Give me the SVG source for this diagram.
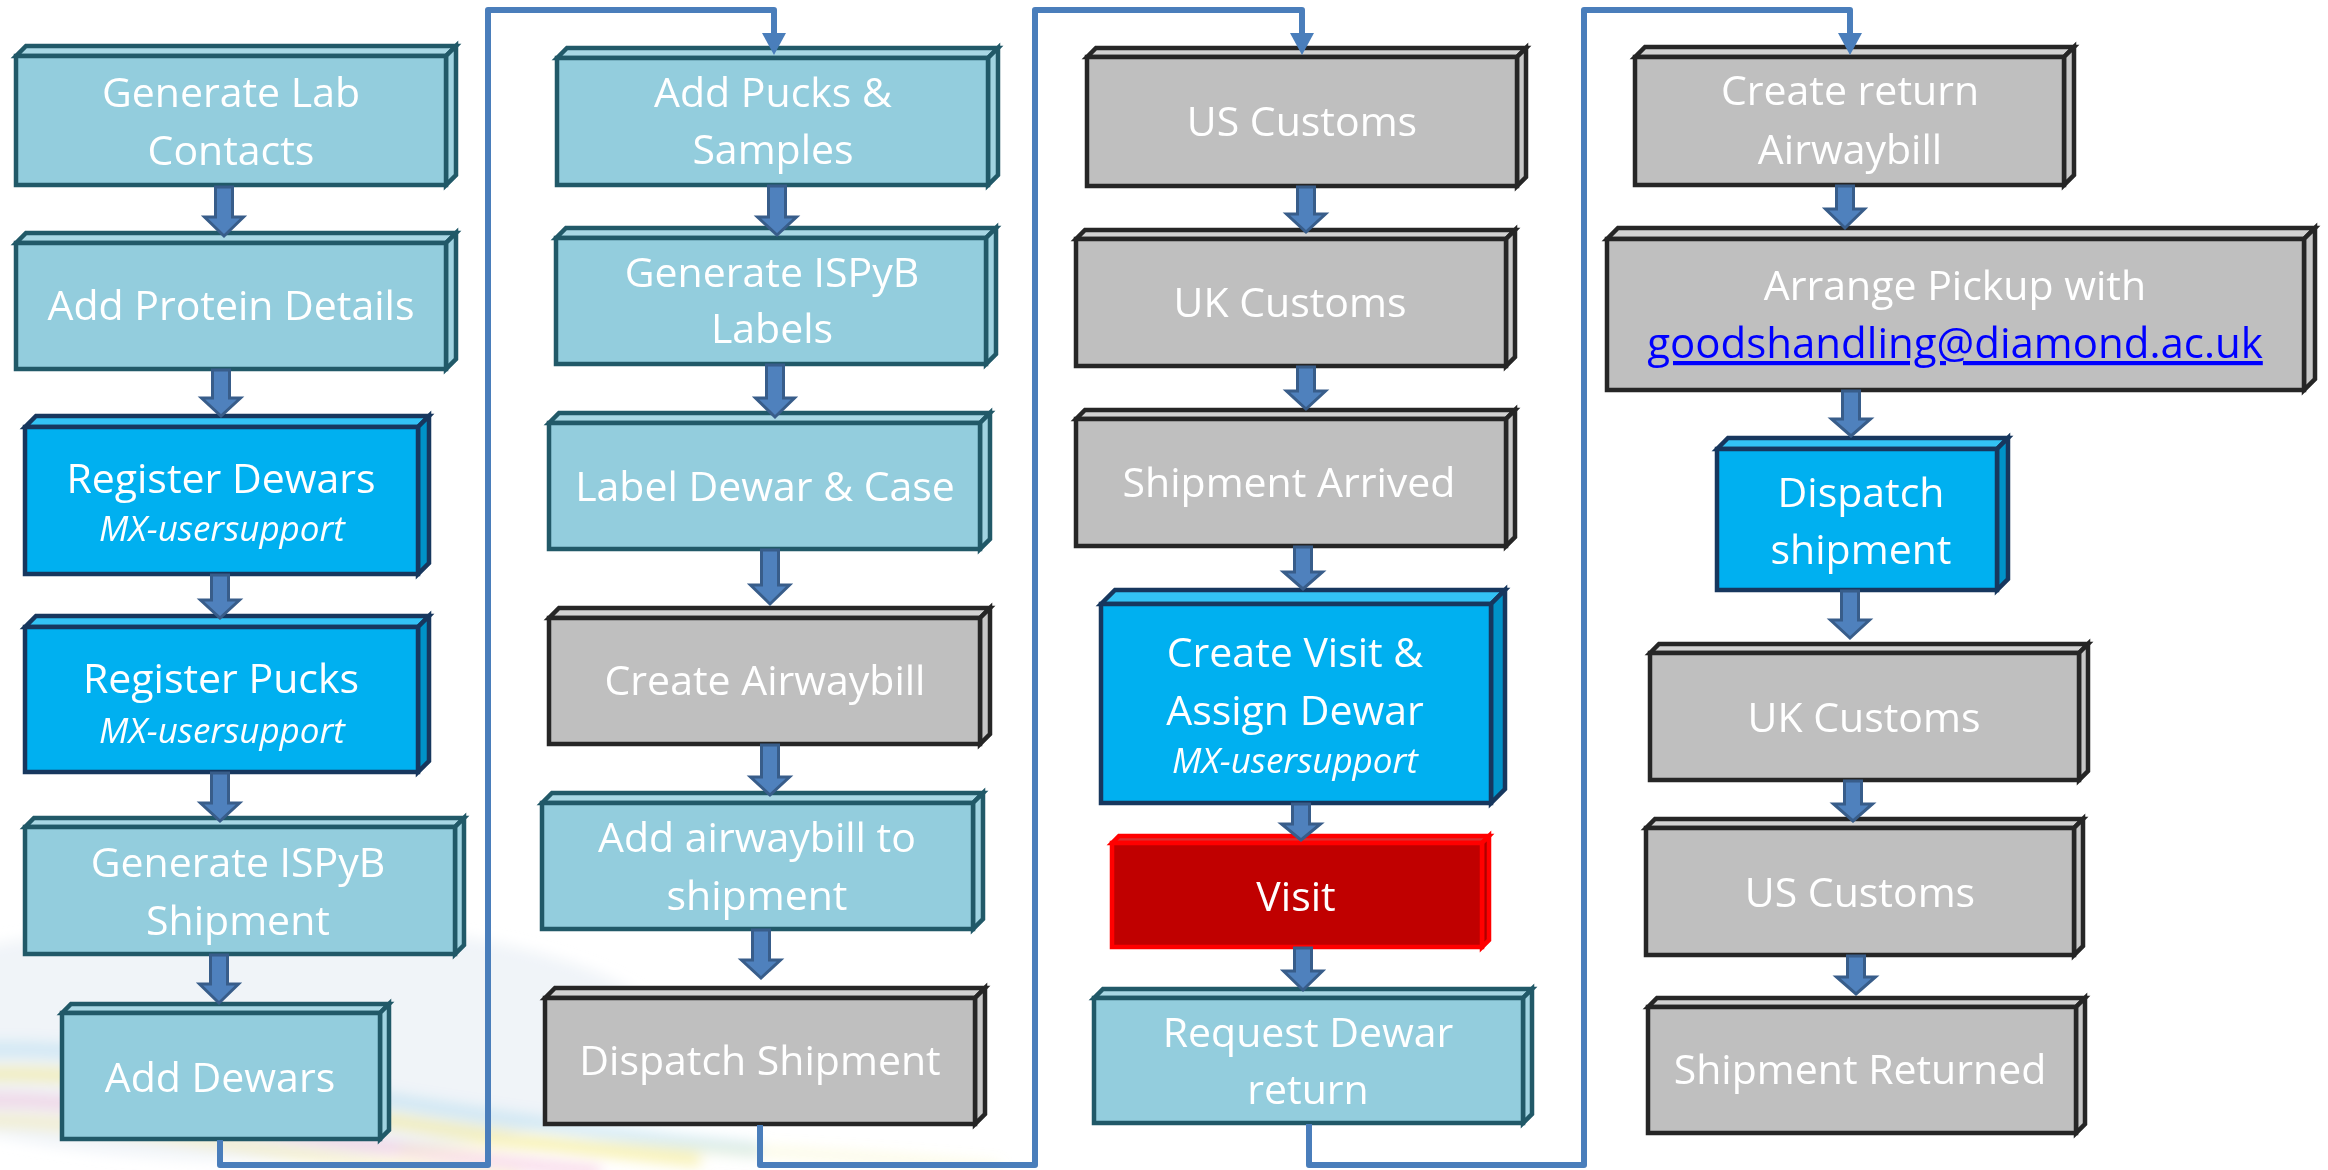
<svg xmlns="http://www.w3.org/2000/svg" width="2328" height="1170" viewBox="0 0 2328 1170">
<defs>
<style>
.box rect,.box path{stroke-width:4.5;stroke-linejoin:miter}
.teal rect{fill:#93CDDD;stroke:#215968}.teal .top{fill:#A8D7E4;stroke:#215968}.teal .side{fill:#A0D3E1;stroke:#215968}
.blue rect{fill:#00B0F0;stroke:#17375E}.blue .top{fill:#33C3F5;stroke:#17375E}.blue .side{fill:#0092C8;stroke:#17375E}
.gray rect{fill:#BFBFBF;stroke:#262626}.gray .top{fill:#D2D2D2;stroke:#262626}.gray .side{fill:#C8C8C8;stroke:#262626}
.red rect{fill:#C00000;stroke:#FF0000}.red .top{fill:#D83030;stroke:#FF0000}.red .side{fill:#B00000;stroke:#FF0000}
text{font-family:"Open Sans","Noto Sans","Liberation Sans",sans-serif;fill:#FFFFFF;text-anchor:middle;font-size:41px}
text.it{font-style:italic;font-size:35px}
text.link{fill:#0000FF;text-decoration:underline;font-size:42px}
.blk{fill:#4F81BD;stroke:#385D8A;stroke-width:3;stroke-linejoin:miter}
.flow{fill:none;stroke:#4A7EBB;stroke-width:6;stroke-linejoin:round}
</style>
<marker id="ah" viewBox="0 -12 22 24" markerWidth="22" markerHeight="24" refX="3" refY="0" orient="auto" markerUnits="userSpaceOnUse">
<path d="M0 -12 L22 0 L0 12 Z" fill="#4A7EBB"/>
</marker>
<filter id="blur" x="-20%" y="-50%" width="140%" height="200%"><feGaussianBlur stdDeviation="7"/></filter>
</defs>
<rect width="2328" height="1170" fill="#FFFFFF"/>
<g id="background" filter="url(#blur)">
<ellipse cx="250" cy="1040" rx="420" ry="120" fill="#E6ECF3" opacity="0.6"/>
<path d="M-30 1050 C 150 1040 350 1110 760 1150" fill="none" stroke="#A9D8EE" stroke-width="14" opacity="0.5"/>
<path d="M-30 1075 C 150 1065 330 1125 700 1160" fill="none" stroke="#F2E45A" stroke-width="12" opacity="0.5"/>
<path d="M-30 1100 C 120 1095 300 1145 600 1172" fill="none" stroke="#EE9CC6" stroke-width="12" opacity="0.4"/>
<path d="M-30 1120 C 120 1120 300 1160 520 1180" fill="none" stroke="#F5E27A" stroke-width="10" opacity="0.45"/>
<path d="M400 1150 C 600 1140 800 1150 1000 1168" fill="none" stroke="#F3EA8A" stroke-width="8" opacity="0.3"/>
</g>

<g id="n-generate-lab-contacts" class="box teal">
<path class="top" d="M16 56 L26 46 H456 L446 56 Z"/><path class="side" d="M446 56 L456 46 V175 L446 185 Z"/><rect x="16" y="56" width="430" height="129"/>
<text x="231" y="107">Generate Lab</text><text x="231" y="165">Contacts</text></g>
<g id="n-add-protein-details" class="box teal">
<path class="top" d="M16 243 L26 233 H456 L446 243 Z"/><path class="side" d="M446 243 L456 233 V359 L446 369 Z"/><rect x="16" y="243" width="430" height="126"/>
<text x="231" y="320">Add Protein Details</text></g>
<g id="n-register-dewars" class="box blue">
<path class="top" d="M25 427 L36 416 H429 L418 427 Z"/><path class="side" d="M418 427 L429 416 V563 L418 574 Z"/><rect x="25" y="427" width="393" height="147"/>
<text x="221" y="493">Register Dewars</text><text class="it" x="222" y="541">MX-usersupport</text></g>
<g id="n-register-pucks" class="box blue">
<path class="top" d="M25 627 L36 616 H429 L418 627 Z"/><path class="side" d="M418 627 L429 616 V761 L418 772 Z"/><rect x="25" y="627" width="393" height="145"/>
<text x="221" y="693">Register Pucks</text><text class="it" x="222" y="743">MX-usersupport</text></g>
<g id="n-generate-ispyb-shipment" class="box teal">
<path class="top" d="M25 827 L34 818 H464 L455 827 Z"/><path class="side" d="M455 827 L464 818 V945 L455 954 Z"/><rect x="25" y="827" width="430" height="127"/>
<text x="238" y="877">Generate ISPyB</text><text x="238" y="935">Shipment</text></g>
<g id="n-add-dewars" class="box teal">
<path class="top" d="M62 1013 L71 1004 H389 L380 1013 Z"/><path class="side" d="M380 1013 L389 1004 V1130 L380 1139 Z"/><rect x="62" y="1013" width="318" height="126"/>
<text x="220" y="1092">Add Dewars</text></g>

<g id="n-add-pucks-samples" class="box teal">
<path class="top" d="M557 58 L567 48 H998 L988 58 Z"/><path class="side" d="M988 58 L998 48 V175 L988 185 Z"/><rect x="557" y="58" width="431" height="127"/>
<text x="773" y="107">Add Pucks &amp;</text><text x="773" y="164">Samples</text></g>
<g id="n-generate-ispyb-labels" class="box teal">
<path class="top" d="M556 238 L566 228 H996 L986 238 Z"/><path class="side" d="M986 238 L996 228 V354 L986 364 Z"/><rect x="556" y="238" width="430" height="126"/>
<text x="772" y="287">Generate ISPyB</text><text x="772" y="343">Labels</text></g>
<g id="n-label-dewar-case" class="box teal">
<path class="top" d="M549 423 L559 413 H990 L980 423 Z"/><path class="side" d="M980 423 L990 413 V539 L980 549 Z"/><rect x="549" y="423" width="431" height="126"/>
<text x="765" y="501">Label Dewar &amp; Case</text></g>
<g id="n-create-airwaybill" class="box gray">
<path class="top" d="M549 618 L559 608 H990 L980 618 Z"/><path class="side" d="M980 618 L990 608 V734 L980 744 Z"/><rect x="549" y="618" width="431" height="126"/>
<text x="765" y="695">Create Airwaybill</text></g>
<g id="n-add-airwaybill-to-shipment" class="box teal">
<path class="top" d="M542 803 L552 793 H983 L973 803 Z"/><path class="side" d="M973 803 L983 793 V919 L973 929 Z"/><rect x="542" y="803" width="431" height="126"/>
<text x="757" y="852">Add airwaybill to</text><text x="757" y="910">shipment</text></g>
<g id="n-dispatch-shipment" class="box gray">
<path class="top" d="M545 998 L555 988 H985 L975 998 Z"/><path class="side" d="M975 998 L985 988 V1114 L975 1124 Z"/><rect x="545" y="998" width="430" height="126"/>
<text x="760" y="1075">Dispatch Shipment</text></g>

<g id="n-us-customs" class="box gray">
<path class="top" d="M1087 57 L1096 48 H1526 L1517 57 Z"/><path class="side" d="M1517 57 L1526 48 V177 L1517 186 Z"/><rect x="1087" y="57" width="430" height="129"/>
<text x="1302" y="136">US Customs</text></g>
<g id="n-uk-customs" class="box gray">
<path class="top" d="M1076 239 L1085 230 H1515 L1506 239 Z"/><path class="side" d="M1506 239 L1515 230 V357 L1506 366 Z"/><rect x="1076" y="239" width="430" height="127"/>
<text x="1290" y="317">UK Customs</text></g>
<g id="n-shipment-arrived" class="box gray">
<path class="top" d="M1076 419 L1085 410 H1515 L1506 419 Z"/><path class="side" d="M1506 419 L1515 410 V537 L1506 546 Z"/><rect x="1076" y="419" width="430" height="127"/>
<text x="1289" y="497">Shipment Arrived</text></g>
<g id="n-create-visit" class="box blue">
<path class="top" d="M1101 604 L1115 590 H1505 L1491 604 Z"/><path class="side" d="M1491 604 L1505 590 V789 L1491 803 Z"/><rect x="1101" y="604" width="390" height="199"/>
<text x="1295" y="667">Create Visit &amp;</text><text x="1295" y="725">Assign Dewar</text><text class="it" x="1295" y="773">MX-usersupport</text></g>
<g id="n-visit" class="box red">
<path class="top" d="M1112 843 L1119 836 H1489 L1482 843 Z"/><path class="side" d="M1482 843 L1489 836 V940 L1482 947 Z"/><rect x="1112" y="843" width="370" height="104"/>
<text x="1296" y="911">Visit</text></g>
<g id="n-request-dewar-return" class="box teal">
<path class="top" d="M1094 998 L1103 989 H1532 L1523 998 Z"/><path class="side" d="M1523 998 L1532 989 V1114 L1523 1123 Z"/><rect x="1094" y="998" width="429" height="125"/>
<text x="1308" y="1047">Request Dewar</text><text x="1308" y="1104">return</text></g>

<g id="n-create-return-airwaybill" class="box gray">
<path class="top" d="M1635 57 L1645 47 H2074 L2064 57 Z"/><path class="side" d="M2064 57 L2074 47 V175 L2064 185 Z"/><rect x="1635" y="57" width="429" height="128"/>
<text x="1850" y="105">Create return</text><text x="1850" y="164">Airwaybill</text></g>
<g id="n-arrange-pickup" class="box gray">
<path class="top" d="M1607 239 L1618 228 H2315 L2304 239 Z"/><path class="side" d="M2304 239 L2315 228 V379 L2304 390 Z"/><rect x="1607" y="239" width="697" height="151"/>
<text x="1955" y="300">Arrange Pickup with</text><text class="link" x="1955" y="358">goodshandling@diamond.ac.uk</text></g>
<g id="n-dispatch-shipment-return" class="box blue">
<path class="top" d="M1717 449 L1728 438 H2008 L1997 449 Z"/><path class="side" d="M1997 449 L2008 438 V579 L1997 590 Z"/><rect x="1717" y="449" width="280" height="141"/>
<text x="1861" y="507">Dispatch</text><text x="1861" y="564">shipment</text></g>
<g id="n-uk-customs-return" class="box gray">
<path class="top" d="M1650 653 L1659 644 H2088 L2079 653 Z"/><path class="side" d="M2079 653 L2088 644 V771 L2079 780 Z"/><rect x="1650" y="653" width="429" height="127"/>
<text x="1864" y="732">UK Customs</text></g>
<g id="n-us-customs-return" class="box gray">
<path class="top" d="M1646 828 L1655 819 H2083 L2074 828 Z"/><path class="side" d="M2074 828 L2083 819 V946 L2074 955 Z"/><rect x="1646" y="828" width="428" height="127"/>
<text x="1860" y="907">US Customs</text></g>
<g id="n-shipment-returned" class="box gray">
<path class="top" d="M1648 1007 L1657 998 H2085 L2076 1007 Z"/><path class="side" d="M2076 1007 L2085 998 V1124 L2076 1133 Z"/><rect x="1648" y="1007" width="428" height="126"/>
<text x="1860" y="1084">Shipment Returned</text></g>

<g id="connectors">
<path class="flow" d="M220 1140 V1165 H488 V10 H774 V36" marker-end="url(#ah)"/>
<path class="flow" d="M760 1125 V1165 H1035 V10 H1302 V36" marker-end="url(#ah)"/>
<path class="flow" d="M1309 1124 V1165 H1584 V10 H1850 V36" marker-end="url(#ah)"/>
<path class="blk" d="M215.5 187 H232.5 V217 H243.5 L224 236 L204.5 217 H215.5 Z"/>
<path class="blk" d="M212.5 370 H229.5 V398 H240.5 L221 416 L201.5 398 H212.5 Z"/>
<path class="blk" d="M211.5 575 H228.5 V600 H239.5 L220 618 L200.5 600 H211.5 Z"/>
<path class="blk" d="M211.5 773 H228.5 V803 H239.5 L220 821 L200.5 803 H211.5 Z"/>
<path class="blk" d="M210.5 955 H227.5 V984 H238.5 L219 1003 L199.5 984 H210.5 Z"/>
<path class="blk" d="M768.5 186 H785.5 V217 H796.5 L777 235 L757.5 217 H768.5 Z"/>
<path class="blk" d="M766.5 365 H783.5 V398 H794.5 L775 417 L755.5 398 H766.5 Z"/>
<path class="blk" d="M761.5 550 H778.5 V585 H789.5 L770 604 L750.5 585 H761.5 Z"/>
<path class="blk" d="M761.5 745 H778.5 V777 H789.5 L770 795 L750.5 777 H761.5 Z"/>
<path class="blk" d="M752.5 930 H769.5 V960 H780.5 L761 978 L741.5 960 H752.5 Z"/>
<path class="blk" d="M1297.5 187 H1314.5 V214 H1325.5 L1306 232 L1286.5 214 H1297.5 Z"/>
<path class="blk" d="M1297.5 367 H1314.5 V391 H1325.5 L1306 409 L1286.5 391 H1297.5 Z"/>
<path class="blk" d="M1294.5 547 H1311.5 V572 H1322.5 L1303 589 L1283.5 572 H1294.5 Z"/>
<path class="blk" d="M1292.5 804 H1309.5 V824 H1320.5 L1301 840 L1281.5 824 H1292.5 Z"/>
<path class="blk" d="M1294.5 948 H1311.5 V971 H1322.5 L1303 990 L1283.5 971 H1294.5 Z"/>
<path class="blk" d="M1836.5 186 H1853.5 V209 H1864.5 L1845 228 L1825.5 209 H1836.5 Z"/>
<path class="blk" d="M1842.5 391 H1859.5 V419 H1870.5 L1851 436 L1831.5 419 H1842.5 Z"/>
<path class="blk" d="M1841.5 591 H1858.5 V620 H1869.5 L1850 638 L1830.5 620 H1841.5 Z"/>
<path class="blk" d="M1844.5 781 H1861.5 V804 H1872.5 L1853 821 L1833.5 804 H1844.5 Z"/>
<path class="blk" d="M1847.5 956 H1864.5 V977 H1875.5 L1856 994 L1836.5 977 H1847.5 Z"/>
</g>
</svg>
